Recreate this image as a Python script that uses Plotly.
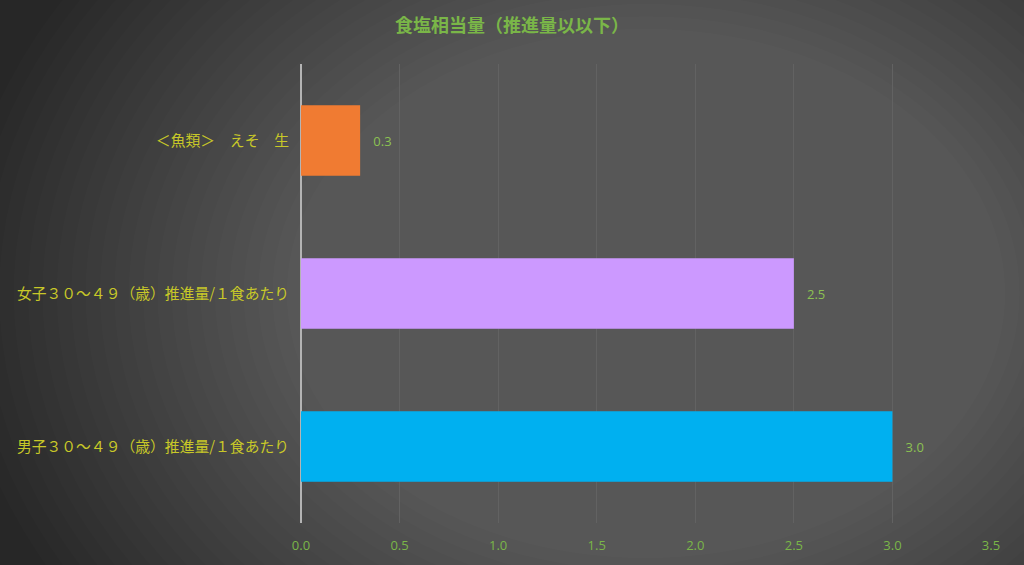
import plotly.graph_objects as go

# bottom to top, as plotly draws horizontal bar categories
categories = ["男子３０～４９（歳）推進量/１食あたり",
              "女子３０～４９（歳）推進量/１食あたり",
              "＜魚類＞　えそ　生"]
values = [3.0, 2.5, 0.3]
bar_colors = ["#00b0f0", "#cc99ff", "#f07b32"]
x_ticks = [0.0, 0.5, 1.0, 1.5, 2.0, 2.5, 3.0, 3.5]

jp_font = "Noto Sans CJK JP"

fig = go.Figure()
fig.add_trace(go.Bar(
    y=categories, x=values, orientation="h",
    marker=dict(color=bar_colors, line=dict(width=0)),
    width=0.46,
    text=[f"   {v:.1f}" for v in values],
    textposition="outside",
    textfont=dict(color="#8cc152", size=13, family="Open Sans"),
    cliponaxis=False,
    hoverinfo="skip",
))

# fake radial background gradient with stacked translucent ellipses
shapes = []
n = 24
for i in range(n):
    f = i / n
    shapes.append(dict(
        type="circle", xref="paper", yref="paper", layer="below",
        x0=-0.5 + 0.5 * f, x1=1.5 - 0.5 * f,
        y0=-0.7 + 0.65 * f, y1=1.7 - 0.65 * f,
        fillcolor="rgba(255,255,255,0.0105)", line=dict(width=0),
    ))

fig.update_layout(
    width=1024, height=565,
    margin=dict(l=301, r=33, t=64, b=42),
    paper_bgcolor="#272727",
    plot_bgcolor="rgba(0,0,0,0)",
    shapes=shapes,
    showlegend=False,
    title=dict(text="<b>食塩相当量（推進量以以下）</b>",
               x=0.5, xanchor="center", y=0.955, yanchor="middle",
               font=dict(family=jp_font, size=18, color="#7ab648")),
    font=dict(family=jp_font),
)
fig.update_xaxes(
    range=[0, 3.5], tickvals=x_ticks, tickformat=".1f",
    showgrid=True, gridcolor="#626262", gridwidth=1,
    zeroline=True, zerolinecolor="#b4b4b4", zerolinewidth=1.5,
    showline=False,
    ticks="outside", ticklen=10, tickcolor="rgba(0,0,0,0)",
    tickfont=dict(family="Open Sans", size=13, color="#7ab648"),
)
fig.update_yaxes(
    categoryorder="array", categoryarray=categories,
    showgrid=False, zeroline=False, showline=False,
    ticks="outside", ticklen=8, tickcolor="rgba(0,0,0,0)",
    tickfont=dict(family=jp_font, size=14.8, color="#c8c828"),
)

fig.write_html(
    "out.html",
    config={"displayModeBar": False},
    post_script="document.body.style.margin='0';document.body.style.background='#272727';",
)
